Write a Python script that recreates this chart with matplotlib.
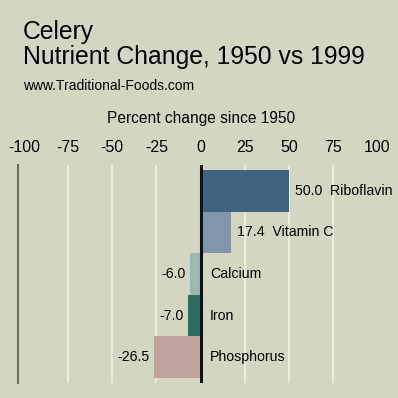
import matplotlib
matplotlib.use("Agg")
import matplotlib.pyplot as plt

# nutrient change for celery, 1950 -> 1999
nutrients = ["Riboflavin", "Vitamin C", "Calcium", "Iron", "Phosphorus"]
change = [50.0, 17.4, -6.0, -7.0, -26.5]
bar_colors = ["#3e6480", "#8096ad", "#9cb8b4", "#2f6d63", "#c2a29c"]
ticks = [-100, -75, -50, -25, 0, 25, 50, 75, 100]

BG = "#d3d7c2"
W = 398.0

plt.rcParams["font.family"] = ["Liberation Sans", "DejaVu Sans"]
fig = plt.figure(figsize=(3.98, 3.98), dpi=100, facecolor=BG)
ax = fig.add_axes([18 / W, 1 - 383 / W, 359 / W, 218 / W], facecolor=BG)

ypos = list(range(len(nutrients)))
for x in ticks[1:-1]:
    if x != 0:
        ax.axvline(x, color="#eef0e4", lw=1.3, zorder=1)
ax.barh(ypos, change, height=1.0, color=bar_colors, edgecolor="none", zorder=2)
ax.axvline(0, color="#111111", lw=2.2, zorder=3)

ax.set_xlim(-103.4, 100)
ax.set_ylim(len(nutrients) - 0.38, -0.62)

for y, v, name in zip(ypos, change, nutrients):
    if v >= 0:
        ax.annotate(f"{v:.1f}  {name}", (v, y), xytext=(4.5, 0), textcoords="offset points",
                    ha="left", va="center", fontsize=10.2, zorder=4)
    else:
        ax.annotate(f"{v:.1f}", (v, y), xytext=(-3, 0), textcoords="offset points",
                    ha="right", va="center", fontsize=10.2, zorder=4)
        ax.annotate(name, (0, y), xytext=(7, 0), textcoords="offset points",
                    ha="left", va="center", fontsize=10.2, zorder=4)

ax.xaxis.tick_top()
ax.set_xticks(ticks)
ax.set_xticklabels([str(t) for t in ticks], fontsize=11.5)
ax.tick_params(axis="x", length=0, pad=7.5)
ax.set_yticks([])
for s in ["top", "right", "bottom"]:
    ax.spines[s].set_visible(False)
ax.spines["left"].set_color("#6b6d62")
ax.spines["left"].set_linewidth(1.5)

fig.text(23 / W, 1 - 39 / W, "Celery", fontsize=17.8, va="baseline")
fig.text(23 / W, 1 - 64 / W, "Nutrient Change, 1950 vs 1999", fontsize=17.8, va="baseline")
fig.text(23 / W, 1 - 90 / W, "www.Traditional-Foods.com", fontsize=10, va="baseline")
fig.text(201 / W, 1 - 123 / W, "Percent change since 1950", fontsize=11.2, ha="center", va="baseline")

fig.savefig("out.png", dpi=100, facecolor=BG)
